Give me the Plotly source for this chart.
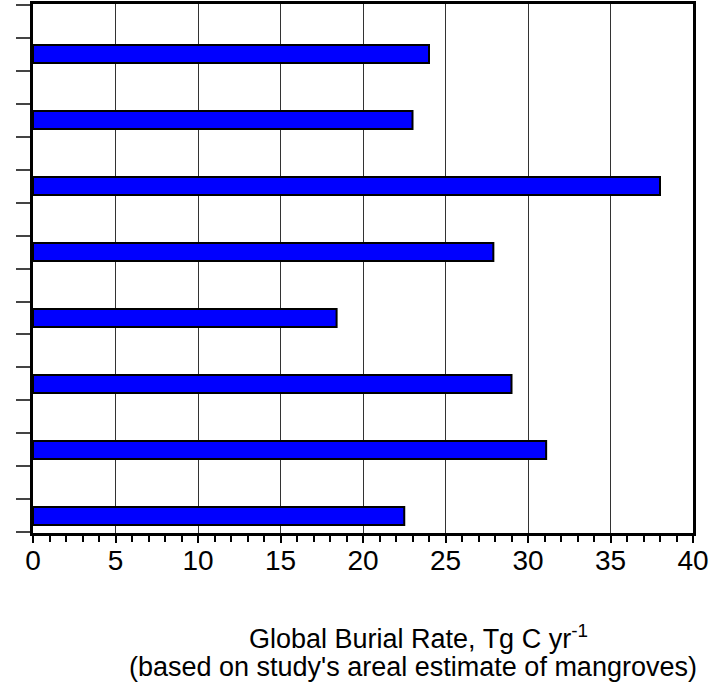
import plotly.graph_objects as go

# Bars listed bottom to top
categories = ["1", "2", "3", "4", "5", "6", "7", "8"]
burial_rate = [22.5, 31.1, 29.0, 18.4, 27.9, 38.0, 23.0, 24.0]
x_ticks = [0, 5, 10, 15, 20, 25, 30, 35, 40]
title_line1 = "Global Burial Rate, Tg C yr<sup>-1</sup>"
title_line2 = "(based on study's areal estimate of mangroves)"

positions = [i + 1 for i in range(len(categories))]

fig = go.Figure(go.Bar(
    x=burial_rate, y=positions, orientation="h",
    marker=dict(color="#0000FF", line=dict(color="black", width=2)),
    width=0.27, hovertext=categories,
))

fig.update_layout(
    width=717, height=686,
    margin=dict(l=33, r=24, t=4, b=153),
    plot_bgcolor="white", paper_bgcolor="white",
    font=dict(family="Liberation Sans, Arial, sans-serif", color="black"),
    showlegend=False,
    xaxis=dict(
        range=[0, 40], tickvals=x_ticks, ticktext=[str(v) for v in x_ticks],
        automargin=False,
        showgrid=True, gridcolor="#333333", gridwidth=1,
        showline=True, linecolor="black", linewidth=2.5, mirror=True,
        ticks="outside", ticklen=7, tickwidth=1.5, tickcolor="black",
        tickfont=dict(size=28), zeroline=False, ticklabelstandoff=-6,
        minor=dict(dtick=1, ticks="outside", ticklen=6, tickwidth=1.5, tickcolor="black", showgrid=False),
    ),
    yaxis=dict(
        range=[0.742, 8.758], tick0=0.25, dtick=0.5, showticklabels=False,
        automargin=False,
        showgrid=False, zeroline=False,
        showline=True, linecolor="black", linewidth=2.5, mirror=True,
        ticks="outside", ticklen=14, tickwidth=1.5, tickcolor="#444444",
    ),
    annotations=[
        dict(text=title_line1, xref="paper", yref="paper", x=(418 - 33) / 660, y=-0.197,
             xanchor="center", yanchor="middle", showarrow=False,
             font=dict(size=27, color="black")),
        dict(text=title_line2, xref="paper", yref="paper", x=(413 - 33) / 660, y=-0.253,
             xanchor="center", yanchor="middle", showarrow=False,
             font=dict(size=27, color="black")),
    ],
)

fig.write_html("out.html", config={"displayModeBar": False},
               post_script="document.body.style.margin='0';document.body.style.overflow='hidden';")
